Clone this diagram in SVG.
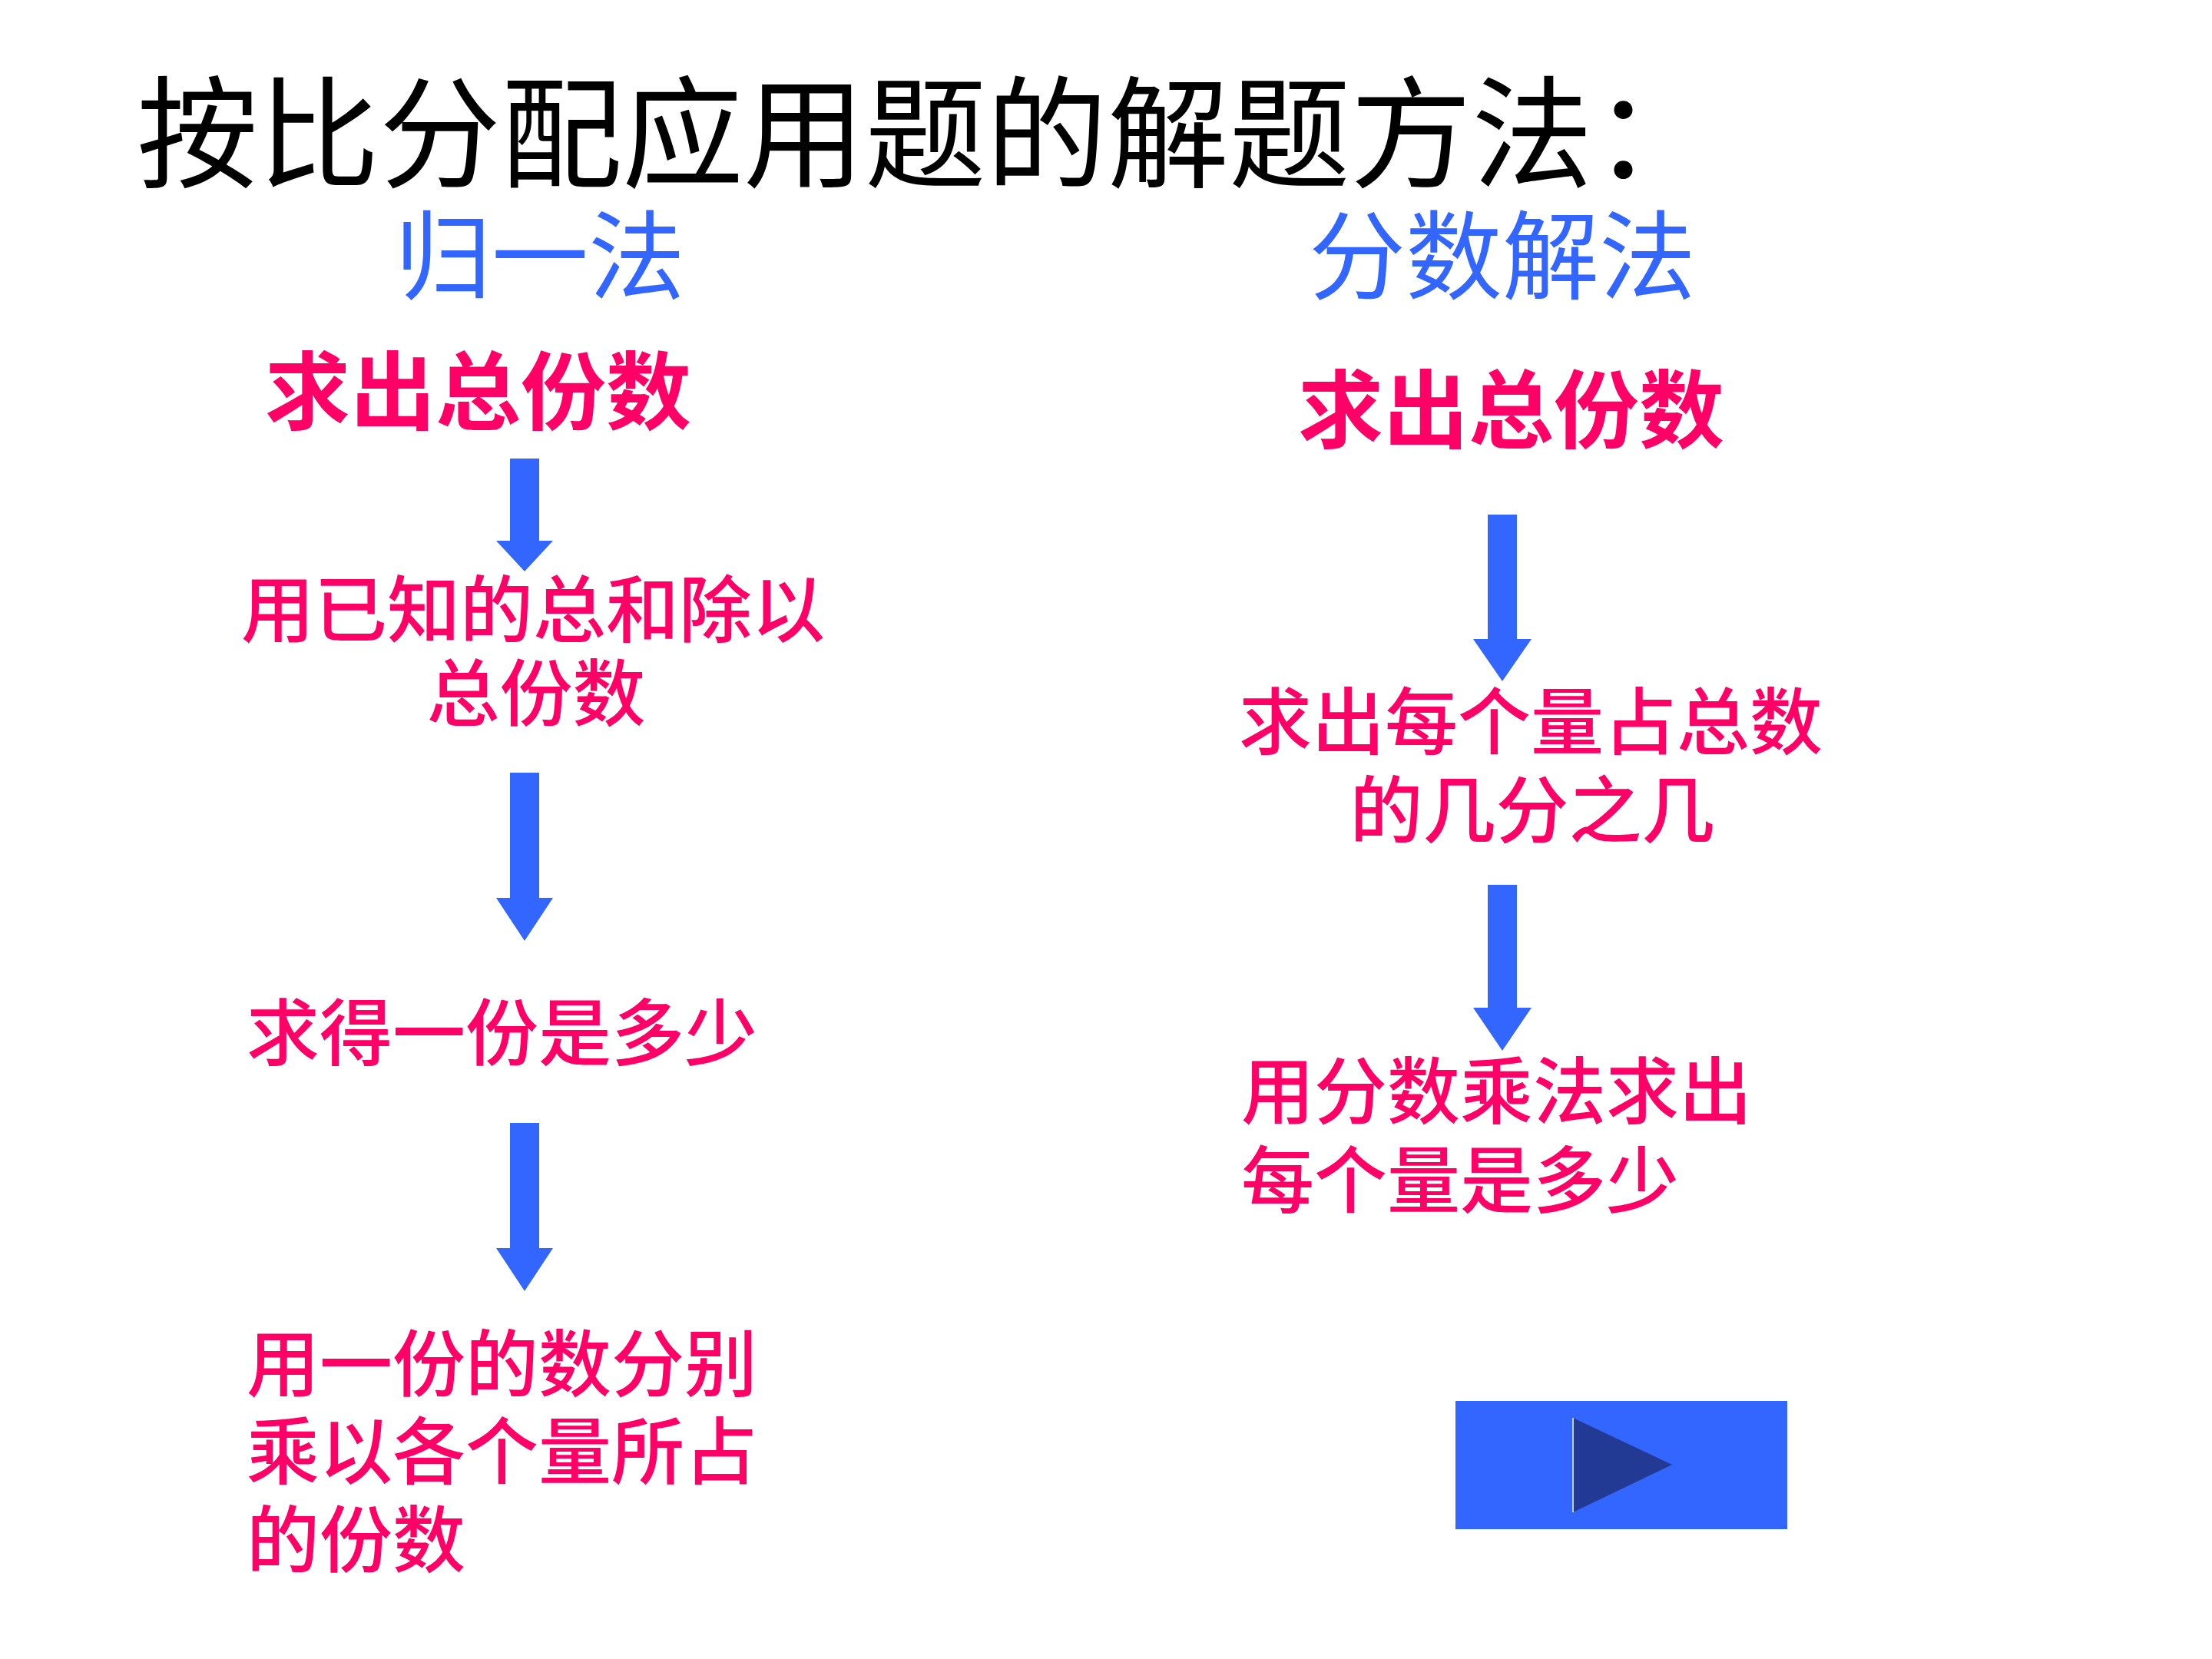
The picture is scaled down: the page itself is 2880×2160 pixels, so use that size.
<svg xmlns="http://www.w3.org/2000/svg" width="2880" height="2160" viewBox="0 0 2880 2160">
<style>
text{font-family:"Noto Sans CJK SC","Noto Sans CJK TC",sans-serif;}
.title{font-size:158px;fill:#000000;font-weight:400;}
.head{font-size:126px;fill:#3366FF;font-weight:400;}
.big{font-size:111px;fill:#FF0066;font-weight:700;}
.step{font-size:95px;fill:#FF0066;font-weight:500;}
.arrow{fill:#3366FF;}
</style>
<rect x="0" y="0" width="2880" height="2160" fill="#FFFFFF"/>
<g id="title"><text class="title" x="178" y="232">按比分配应用题的解题方法：</text></g>
<g id="head-left"><text class="head" x="514" y="380">归一法</text></g>
<g id="head-right"><text class="head" x="1704" y="380">分数解法</text></g>
<g id="l1"><text class="big" x="345" y="551">求出总份数</text></g>
<g id="l2"><text class="step" text-anchor="middle" x="694" y="829">用已知的总和除以</text><text class="step" text-anchor="middle" x="698" y="938">总份数</text></g>
<g id="l3"><text class="step" x="321" y="1380">求得一份是多少</text></g>
<g id="l4"><text class="step" x="321" y="1811">用一份的数分别</text><text class="step" x="321" y="1925">乘以各个量所占</text><text class="step" x="321" y="2040">的份数</text></g>
<g id="r1"><text class="big" x="1690" y="575">求出总份数</text></g>
<g id="r2"><text class="step" text-anchor="middle" x="1993" y="975">求出每个量占总数</text><text class="step" text-anchor="middle" x="1995" y="1090">的几分之几</text></g>
<g id="r3"><text class="step" x="1616" y="1456">用分数乘法求出</text><text class="step" x="1616" y="1572">每个量是多少</text></g>
<g id="connectors">
<polygon class="arrow" points="664,597 702,597 702,704 720,704 683,744 646,704 664,704"/>
<polygon class="arrow" points="664,1006 702,1006 702,1169 720,1169 683,1225 646,1169 664,1169"/>
<polygon class="arrow" points="664,1462 702,1462 702,1625 720,1625 683,1681 646,1625 664,1625"/>
<polygon class="arrow" points="1937,670 1975,670 1975,832 1994,832 1956,887 1918,832 1937,832"/>
<polygon class="arrow" points="1937,1152 1975,1152 1975,1312 1994,1312 1956,1368 1918,1312 1937,1312"/>
</g>
<g id="button">
<rect x="1895" y="1824" width="432" height="167" fill="#3366FF"/>
<polygon points="2048,1846 2177,1907 2048,1969" fill="#223A94"/>
<line x1="2048" y1="1846" x2="2048" y2="1969" stroke="#C8D4F0" stroke-width="2"/>
</g>
</svg>
